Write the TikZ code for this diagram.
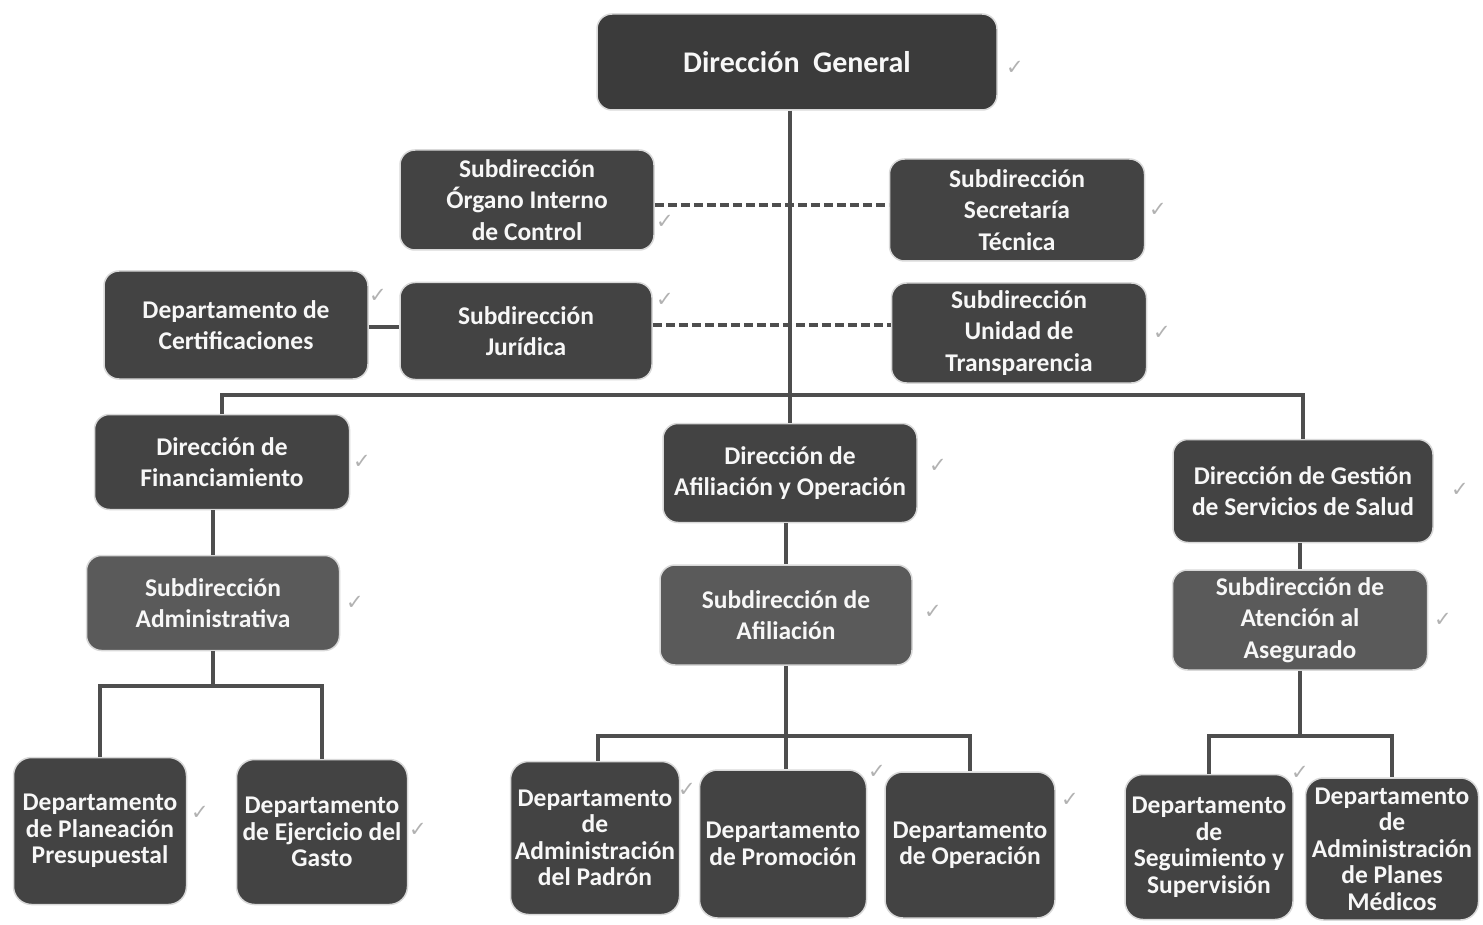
\documentclass[tikz,border=0pt]{standalone}
\usepackage{fontspec}
\setmainfont{Carlito}
\newfontfamily\checkfont{DejaVu Sans}
\definecolor{boxdark}{HTML}{434343}
\definecolor{boxtop}{HTML}{3B3B3B}
\definecolor{boxmid}{HTML}{5A5A5A}
\definecolor{linegray}{HTML}{4E4E4E}
\tikzset{
  box/.style={rounded corners=15pt, fill=boxdark, draw=gray!30, line width=1.5pt,
    text=white!94!gray, align=center, inner sep=0pt,
    font=\fontsize{25.5}{31.5}\selectfont\bfseries},
  topbox/.style={box, fill=boxtop, font=\fontsize{30}{34}\selectfont\bfseries},
  midbox/.style={box, fill=boxmid},
  deptbox/.style={box, rounded corners=18pt, font=\fontsize{25.5}{26.5}\selectfont\bfseries},
  conn/.style={draw=linegray, line width=4pt},
  dashconn/.style={draw=linegray, line width=4pt, dash pattern=on 9pt off 4pt},
  tick/.style={text=gray!60, font=\checkfont\fontsize{21}{21}\selectfont, inner sep=0pt}
}
\begin{document}
\begin{tikzpicture}[x=1pt,y=-1pt]
\useasboundingbox[fill=white] (0,0) rectangle (1483,925);
% boxes
\node[topbox, minimum width=400pt, minimum height=96pt] (dg) at (797,62) {Dirección\ \ General};
\node[box, minimum width=254pt, minimum height=100pt] (org) at (527,200) {Subdirección\\Órgano Interno\\de Control};
\node[box, minimum width=255pt, minimum height=102pt] (sec) at (1017,210) {Subdirección\\Secretaría\\Técnica};
\node[box, minimum width=264pt, minimum height=108pt] (cert) at (236,325) {Departamento de\\Certificaciones};
\node[box, minimum width=252pt, minimum height=97pt] (jur) at (526,331) {Subdirección\\Jurídica};
\node[box, minimum width=255pt, minimum height=100pt] (trans) at (1019,333) {Subdirección\\Unidad de\\Transparencia};
\node[box, minimum width=255pt, minimum height=95pt] (fin) at (222,462) {Dirección de\\Financiamiento};
\node[box, minimum width=254pt, minimum height=99pt] (afil) at (790,473) {Dirección de\\Afiliación y Operación};
\node[box, minimum width=260pt, minimum height=103pt] (gest) at (1303,491) {Dirección de Gestión\\de Servicios de Salud};
\node[midbox, minimum width=253pt, minimum height=95pt] (subadm) at (213,603) {Subdirección\\Administrativa};
\node[midbox, minimum width=252pt, minimum height=100pt] (subafil) at (786,615) {Subdirección de\\Afiliación};
\node[midbox, minimum width=255pt, minimum height=100pt] (subaten) at (1300,620) {Subdirección de\\Atención al\\Asegurado};
\node[deptbox, minimum width=173pt, minimum height=147pt] (plan) at (100,831) {Departamento\\de Planeación\\Presupuestal};
\node[deptbox, minimum width=171pt, minimum height=145pt] (gasto) at (322,832) {Departamento\\de Ejercicio del\\Gasto};
\node[deptbox, minimum width=169pt, minimum height=153pt] (padron) at (595,838) {Departamento\\de\\Administración\\del Padrón};
\node[deptbox, minimum width=167pt, minimum height=148pt] (promo) at (783,844) {Departamento\\de Promoción};
\node[deptbox, minimum width=170pt, minimum height=146pt] (oper) at (970,845) {Departamento\\de Operación};
\node[deptbox, minimum width=168pt, minimum height=145pt] (segu) at (1209,847) {Departamento\\de\\Seguimiento y\\Supervisión};
\node[deptbox, minimum width=173pt, minimum height=142pt] (planes) at (1392,849) {Departamento\\de\\Administración\\de Planes\\Médicos};
% bus coordinates
\coordinate (bus) at (789,395);
\coordinate (d1) at (789,205);
\coordinate (d2) at (789,325);
\coordinate (b1) at (213,686);
\coordinate (b2) at (786,736);
\coordinate (b3) at (1300,736);
% connectors
\draw[dashconn] (org.east |- d1) -- (sec.west |- d1);
\draw[dashconn] (jur.east |- d2) -- (trans.west |- d2);
\draw[conn] (cert.east |- 0,327) -- (jur.west |- 0,327);
\draw[conn] (dg.south -| afil.north) -- (afil.north);
\draw[conn] (fin.north) -- (fin.north |- bus) -- (gest.north |- bus) -- (gest.north);
\draw[conn] (subadm.north |- fin.south) -- (subadm.north);
\draw[conn] (subafil.north |- afil.south) -- (subafil.north);
\draw[conn] (subaten.north |- gest.south) -- (subaten.north);
\draw[conn] (subadm.south) -- (b1);
\draw[conn] (plan.north) |- (b1) -| (gasto.north);
\draw[conn] (subafil.south) -- (b2);
\draw[conn] (padron.north -| 598,0) |- (b2) -| (oper.north);
\draw[conn] (b2) -- (promo.north -| b2);
\draw[conn] (subaten.south) -- (b3);
\draw[conn] (segu.north) |- (b3) -| (planes.north);
% check marks
\node[tick] (k1) at (1015,68) {✓};
\node[tick] (k2) at (665,222) {✓};
\node[tick] (k3) at (1158,210) {✓};
\node[tick] (k4) at (378,296) {✓};
\node[tick] (k5) at (665,300) {✓};
\node[tick] (k6) at (1162,333) {✓};
\node[tick] (k7) at (362,462) {✓};
\node[tick] (k8) at (938,466) {✓};
\node[tick] (k9) at (1460,490) {✓};
\node[tick] (k10) at (355,603) {✓};
\node[tick] (k11) at (933,612) {✓};
\node[tick] (k12) at (1443,620) {✓};
\node[tick] (k13) at (200,813) {✓};
\node[tick] (k14) at (418,830) {✓};
\node[tick] (k15) at (687,790) {✓};
\node[tick] (k16) at (877,772) {✓};
\node[tick] (k17) at (1070,800) {✓};
\node[tick] (k18) at (1300,773) {✓};
\end{tikzpicture}
\end{document}
